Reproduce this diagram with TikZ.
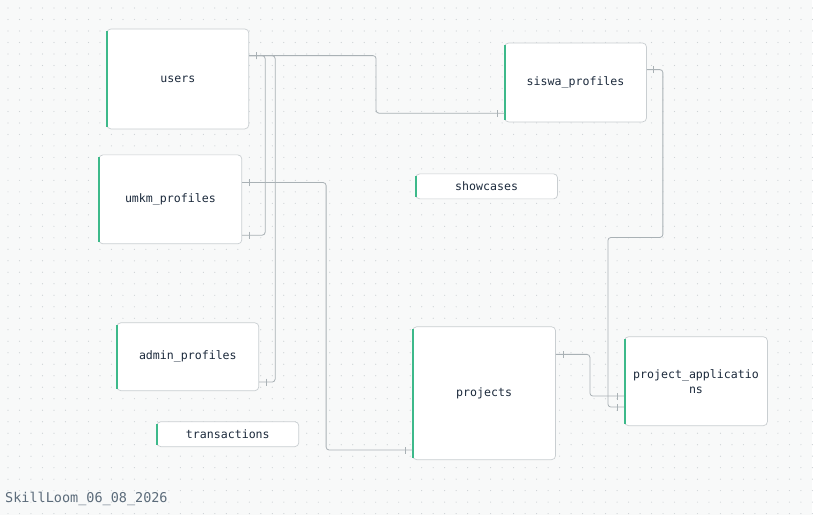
\documentclass[tikz,border=0pt]{standalone}
\usepackage{fontspec}
\setmonofont{DejaVu Sans Mono}
\usepackage{tikz}
\usetikzlibrary{decorations.markings}
\usepackage{xcolor}

\definecolor{bgc}{HTML}{F8F9F9}
\definecolor{dotc}{HTML}{CDD2D5}
\definecolor{edgec}{HTML}{C9CED1}
\definecolor{linec}{HTML}{A9B1B5}
\definecolor{barc}{HTML}{3DB98A}
\definecolor{txtc}{HTML}{1C2A3C}
\definecolor{footc}{HTML}{5B6B7A}

\begin{document}
\begin{tikzpicture}[x=1pt, y=-1pt,
    every node/.style={font=\ttfamily\fontsize{11.6}{15}\selectfont, text=txtc},
    tbl/.style={draw=edgec, line width=0.7pt, fill=white, rounded corners=4pt,
        minimum width=142pt, align=center, inner sep=0pt},
    rel/.style={draw=linec, line width=0.8pt, rounded corners=3pt,
        postaction={decorate, decoration={markings,
            mark=at position 7pt with {\draw[linec, line width=0.8pt] (0,-3.5pt) -- (0,3.5pt);},
            mark=at position -7pt with {\draw[linec, line width=0.8pt] (0,-3.5pt) -- (0,3.5pt);}}}}]

    % Canvas with dot grid
    \fill[bgc] (0,0) rectangle (813,515);
    \foreach \gx in {0,...,70} {
        \foreach \gy in {0,...,44} {
            \fill[dotc] (8+\gx*11.5, 8+\gy*11.5) circle (0.6pt);
        }
    }

    % Tables
    \node[tbl, minimum height=100pt] (users) at (178,79) {users};
    \node[tbl, minimum height=79pt] (siswa) at (576,82.5) {siswa\_profiles};
    \node[tbl, minimum width=143pt, minimum height=89pt] (umkm) at (170.5,199.5) {umkm\_profiles};
    \node[tbl, minimum height=25pt] (showcases) at (487,186.5) {showcases};
    \node[tbl, minimum height=68pt] (admin) at (188,357) {admin\_profiles};
    \node[tbl, minimum height=25pt] (transactions) at (228,434.5) {transactions};
    \node[tbl, minimum width=143pt, minimum height=133pt] (projects) at (484.5,393.5) {projects};
    \node[tbl, minimum width=143pt, minimum height=89pt] (applications) at (696.5,381.5) {project\_applicatio\\ns};

    % Green side bars
    \foreach \t in {users, siswa, umkm, showcases, admin, transactions, projects, applications} {
        \draw[barc, line width=1.8pt] ([xshift=0.6pt, yshift=-2.5pt]\t.north west) -- ([xshift=0.6pt, yshift=2.5pt]\t.south west);
    }

    % Relations
    \draw[rel] ([yshift=-27pt]users.north east) -- ++(127,0) |- ([yshift=9pt]siswa.south west);
    \draw[rel] ([yshift=-27pt]users.north east) -- ++(16,0) |- ([yshift=9pt]umkm.south east);
    \draw[rel] ([yshift=-27pt]users.north east) -- ++(26,0) |- ([yshift=9pt]admin.south east);
    \draw[rel] ([yshift=-28pt]umkm.north east) -- ++(84,0) |- ([yshift=10pt]projects.south west);
    \draw[rel] ([yshift=-27pt]siswa.north east) -- ++(16,0) -- ++(0,168) -- ++(-55,0) |- ([yshift=19pt]applications.south west);
    \draw[rel] ([yshift=-28pt]projects.north east) -- ++(34,0) |- ([yshift=30pt]applications.south west);

    % Footer
    \node[anchor=base west, inner sep=0pt, text=footc, font=\ttfamily\fontsize{13.5}{16}\selectfont] (title) at (5,503) {SkillLoom\_06\_08\_2026};
\end{tikzpicture}
\end{document}
